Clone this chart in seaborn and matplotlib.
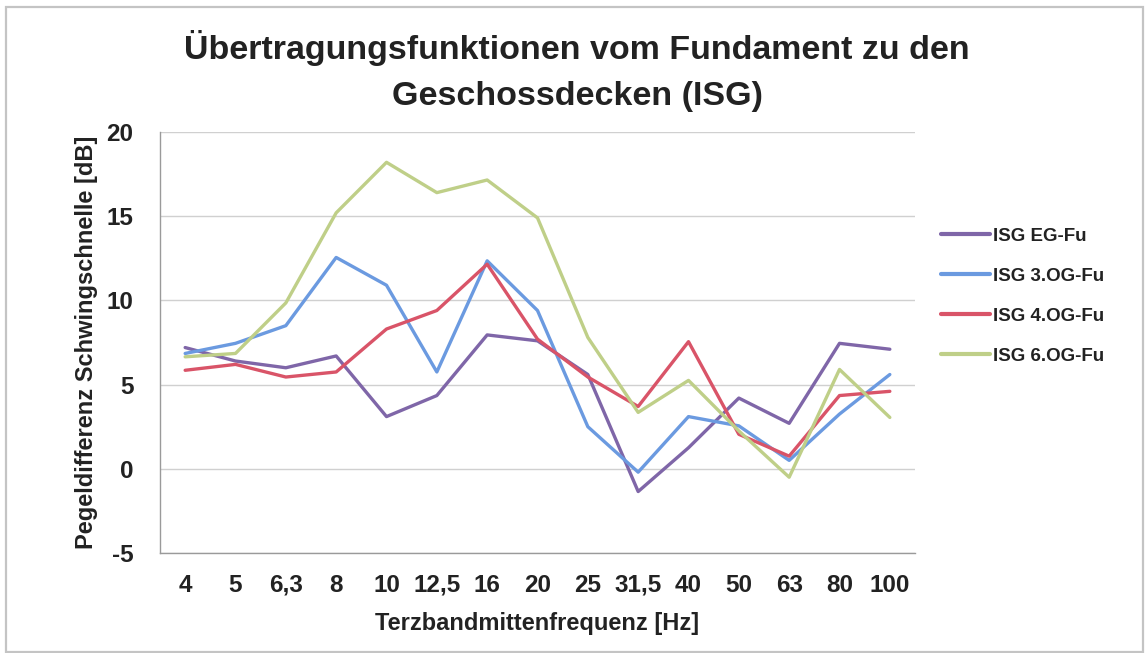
import matplotlib
matplotlib.use("Agg")
import matplotlib.pyplot as plt
import seaborn as sns
import pandas as pd
from matplotlib.patches import Rectangle

freq_labels = ["4", "5", "6,3", "8", "10", "12,5", "16", "20", "25", "31,5", "40", "50", "63", "80", "100"]
isg_eg = [7.2, 6.4, 6.0, 6.7, 3.1, 4.35, 7.95, 7.6, 5.6, -1.35, 1.25, 4.2, 2.7, 7.45, 7.1]
isg_3og = [6.85, 7.45, 8.5, 12.55, 10.9, 5.75, 12.35, 9.4, 2.5, -0.2, 3.1, 2.55, 0.5, 3.25, 5.6]
isg_4og = [5.85, 6.2, 5.45, 5.75, 8.3, 9.4, 12.15, 7.7, 5.45, 3.7, 7.55, 2.05, 0.75, 4.35, 4.6]
isg_6og = [6.65, 6.85, 9.85, 15.2, 18.2, 16.4, 17.15, 14.9, 7.8, 3.35, 5.25, 2.25, -0.5, 5.9, 3.05]
series_names = ["ISG EG-Fu", "ISG 3.OG-Fu", "ISG 4.OG-Fu", "ISG 6.OG-Fu"]
y_ticks = [-5, 0, 5, 10, 15, 20]

colors = ["#7f66a8", "#6b9ae0", "#d95468", "#bfcf88"]

rows = []
for name, vals in zip(series_names, [isg_eg, isg_3og, isg_4og, isg_6og]):
    for i, v in enumerate(vals):
        rows.append({"pos": i, "value": v, "series": name})
df = pd.DataFrame(rows)

sns.set_theme(style="white")
plt.rcParams["font.family"] = ["Liberation Sans Narrow", "Liberation Sans", "DejaVu Sans"]
plt.rcParams["font.weight"] = "bold"

W, H = 1146, 653
fig = plt.figure(figsize=(W / 100, H / 100), dpi=100)
fig.patch.set_facecolor("white")
fig.patches.append(Rectangle((6 / W, 1 - 652 / H), 1137 / W, 645 / H, transform=fig.transFigure,
                             fill=False, edgecolor="#c4c4c4", linewidth=1.6))

ax = fig.add_axes([160 / W, 1 - 553 / H, 755 / W, 421 / H])
sns.lineplot(data=df, x="pos", y="value", hue="series", palette=colors,
             linewidth=2.4, ax=ax, legend=True, sort=False)

ax.set_xlim(-0.5, len(freq_labels) - 0.5)
ax.set_ylim(-5, 20)
ax.set_yticks(y_ticks)
ax.set_yticklabels([str(t) for t in y_ticks], fontsize=17.5, fontweight="bold", color="#222222")
ax.set_xticks(range(len(freq_labels)))
ax.set_xticklabels(freq_labels, fontsize=17.5, fontweight="bold", color="#222222")
ax.set_xticks([i - 0.5 for i in range(len(freq_labels) + 1)], minor=True)
ax.tick_params(axis="x", which="major", length=0, pad=15)
ax.tick_params(axis="x", which="minor", length=5, color="#999999", direction="out")
ax.tick_params(axis="y", length=5, color="#999999", direction="out", pad=14)
ax.yaxis.grid(True, color="#d0d0d0", linewidth=1.0)
ax.set_axisbelow(True)
for s in ["top", "right"]:
    ax.spines[s].set_visible(False)
for s in ["left", "bottom"]:
    ax.spines[s].set_color("#9a9a9a")
    ax.spines[s].set_linewidth(1.0)

ax.set_xlabel("Terzbandmittenfrequenz [Hz]", fontsize=17, fontweight="bold", color="#222222", labelpad=11)
ax.set_ylabel("Pegeldifferenz Schwingschnelle [dB]", fontsize=17, fontweight="bold", color="#222222", labelpad=6)

fig.text(577 / W, 1 - 48 / H, "Übertragungsfunktionen vom Fundament zu den",
         ha="center", va="center", fontsize=24.5, fontweight="bold", color="#222222")
fig.text(577 / W, 1 - 97 / H, "Geschossdecken (ISG)",
         ha="center", va="center", fontsize=24.5, fontweight="bold", color="#222222")

leg = ax.legend(loc="center left", bbox_to_anchor=(1.022, 0.61), frameon=False, borderpad=0,
                fontsize=13.5, handlelength=2.6, handletextpad=0.2, labelspacing=1.22)
for t in leg.get_texts():
    t.set_fontweight("bold")
    t.set_color("#222222")
for h in leg.legend_handles:
    h.set_linewidth(3)

fig.savefig("out.png", dpi=100, facecolor="white")
